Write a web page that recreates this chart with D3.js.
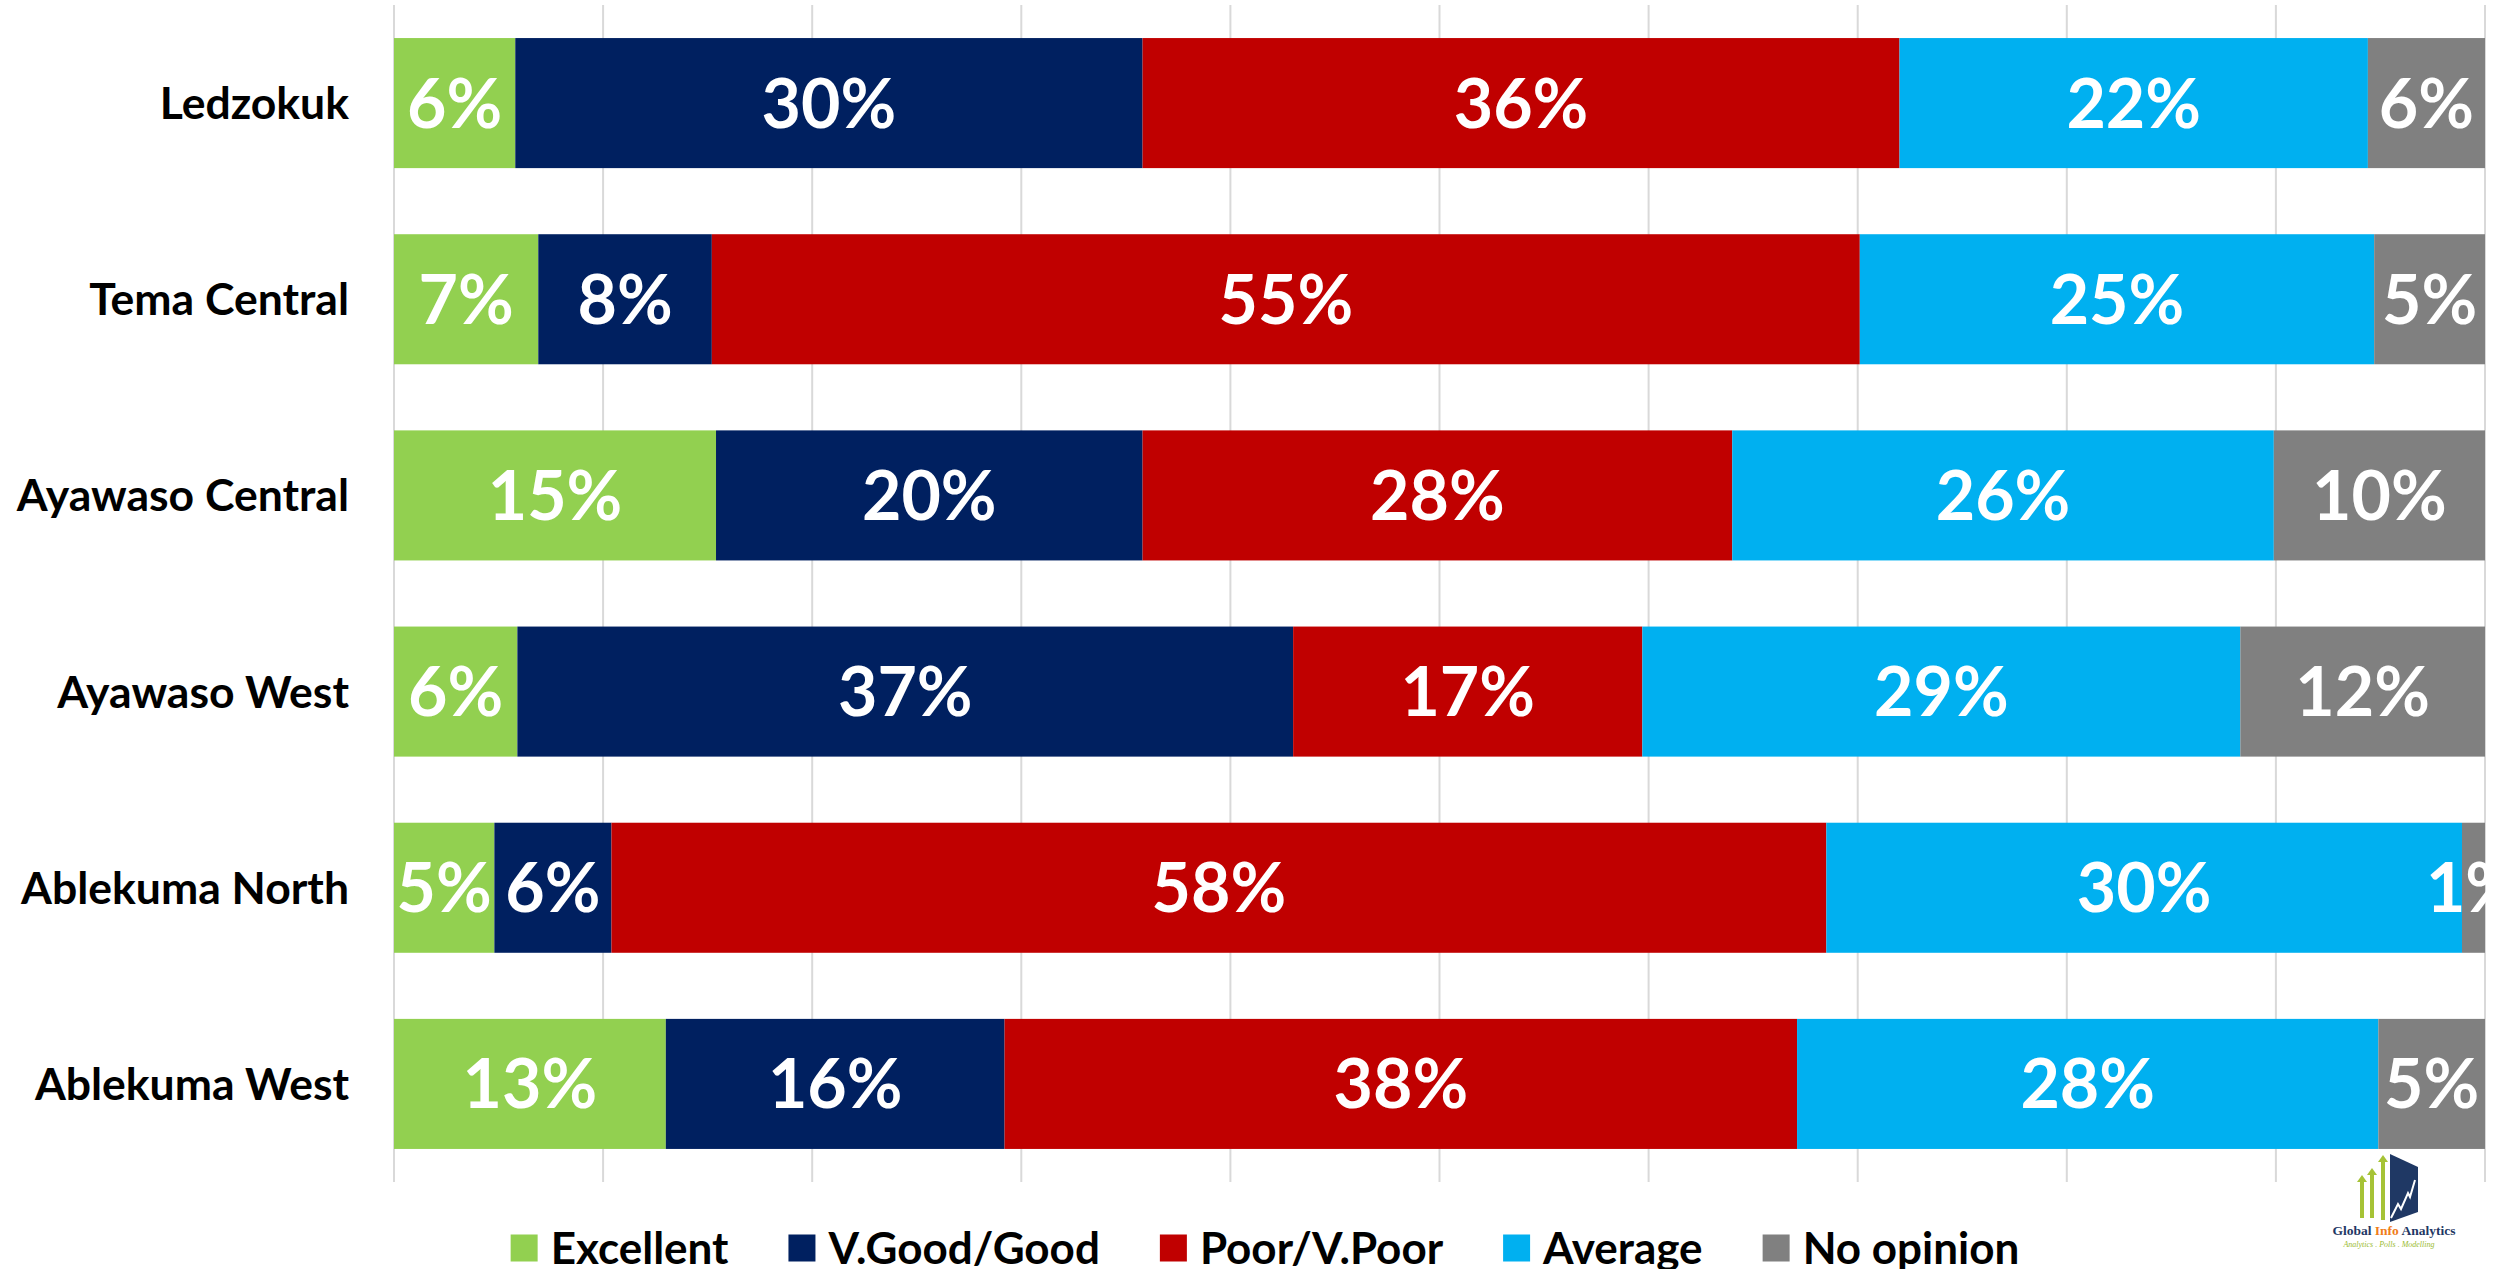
<!DOCTYPE html>
<html>
<head>
<meta charset="utf-8">
<script src="https://cdn.jsdelivr.net/npm/d3@7"></script>
<style>
  html, body { margin: 0; padding: 0; background: #ffffff; }
  svg { display: block; }
</style>
</head>
<body>
<svg id="chart" width="2501" height="1269"></svg>
<script>
// ---- Data ----
const categories = ["Ledzokuk", "Tema Central", "Ayawaso Central", "Ayawaso West", "Ablekuma North", "Ablekuma West"];
const seriesNames = ["Excellent", "V.Good/Good", "Poor/V.Poor", "Average", "No opinion"];
const excellent = [5.8, 6.9, 15.4, 5.9, 4.8, 13.0];
const vgoodGood = [30.0, 8.3, 20.4, 37.1, 5.6, 16.2];
const poorVPoor = [36.2, 54.9, 28.2, 16.7, 58.1, 37.9];
const average   = [22.4, 24.6, 25.9, 28.6, 30.4, 27.8];
const noOpinion = [5.6, 5.3, 10.1, 11.7, 1.1, 5.1];
const xTicks = [0, 10, 20, 30, 40, 50, 60, 70, 80, 90, 100];
const colors = ["#92D050", "#002060", "#C00000", "#00B0F0", "#808080"];

const seriesValues = [excellent, vgoodGood, poorVPoor, average, noOpinion];
const table = categories.map((c, i) => {
  const row = { category: c };
  seriesNames.forEach((s, j) => row[s] = seriesValues[j][i]);
  return row;
});

// ---- Layout ----
const svg = d3.select("#chart");
const FONT = "Lato, 'Open Sans', 'DejaVu Sans', sans-serif";
const plotLeft = 394, plotRight = 2485, plotTop = 5, plotBottom = 1182;

const x = d3.scaleLinear().domain([0, 100]).range([plotLeft, plotRight]);
const y = d3.scaleBand().domain(categories).range([plotTop, plotBottom])
  .paddingInner(0.337).paddingOuter(0.1685);

// gridlines
svg.append("g")
  .selectAll("line")
  .data(xTicks)
  .join("line")
  .attr("x1", d => x(d)).attr("x2", d => x(d))
  .attr("y1", plotTop).attr("y2", plotBottom)
  .attr("stroke", "#D9D9D9").attr("stroke-width", 2);

// clip for the plot area
svg.append("defs").append("clipPath").attr("id", "plotClip")
  .append("rect").attr("x", plotLeft).attr("y", 0)
  .attr("width", plotRight - plotLeft + 1).attr("height", plotBottom);

const stacked = d3.stack().keys(seriesNames)(table);

const layers = svg.append("g").attr("clip-path", "url(#plotClip)")
  .selectAll("g.layer")
  .data(stacked)
  .join("g")
  .attr("class", "layer")
  .attr("fill", (d, i) => colors[i]);

layers.selectAll("rect")
  .data(d => d)
  .join("rect")
  .attr("x", d => x(d[0]))
  .attr("y", d => y(d.data.category))
  .attr("width", d => x(d[1]) - x(d[0]))
  .attr("height", y.bandwidth());

// data labels
const labels = svg.append("g").attr("clip-path", "url(#plotClip)");
stacked.forEach((layer) => {
  labels.selectAll(null)
    .data(layer)
    .join("text")
    .attr("x", d => (x(d[0]) + x(d[1])) / 2)
    .attr("y", d => y(d.data.category) + y.bandwidth() / 2)
    .attr("dy", "0.36em")
    .attr("text-anchor", "middle")
    .attr("font-family", FONT)
    .attr("font-weight", "bold")
    .attr("font-size", 68)
    .attr("fill", "#ffffff")
    .text(d => Math.round(d[1] - d[0]) + "%");
});

// category axis labels
svg.append("g")
  .selectAll("text")
  .data(categories)
  .join("text")
  .attr("x", 349)
  .attr("y", d => y(d) + y.bandwidth() / 2)
  .attr("dy", "0.36em")
  .attr("text-anchor", "end")
  .attr("font-family", FONT)
  .attr("font-weight", "bold")
  .attr("font-size", 44.5)
  .attr("fill", "#000000")
  .text(d => d);

// legend
const legend = svg.append("g");
let cursor = 0;
const legendY = 1248;
seriesNames.forEach((name, i) => {
  const g = legend.append("g").attr("transform", `translate(${cursor},0)`);
  g.append("rect").attr("x", 0).attr("y", legendY - 13.5).attr("width", 27).attr("height", 27)
    .attr("fill", colors[i]);
  const t = g.append("text").attr("x", 40).attr("y", legendY).attr("dy", "0.36em")
    .attr("font-family", FONT).attr("font-weight", "bold").attr("font-size", 44)
    .attr("fill", "#000").text(name);
  const w = t.node().getComputedTextLength();
  cursor += 40 + w + 60;
});
const legendWidth = cursor - 60;
legend.attr("transform", `translate(${1265 - legendWidth / 2},0)`);

// logo (decoration)
const logo = svg.append("g");
const arrowColor = "#A6C336";
[[2362, 1175, 1218], [2372, 1168, 1218], [2383, 1155, 1220]].forEach(([cx, top, bot]) => {
  logo.append("rect").attr("x", cx - 2).attr("y", top + 6).attr("width", 4).attr("height", bot - top - 6).attr("fill", arrowColor);
  logo.append("path").attr("d", `M${cx - 5},${top + 7} L${cx},${top} L${cx + 5},${top + 7} Z`).attr("fill", arrowColor);
});
logo.append("path").attr("d", "M2390,1154 L2418,1167 L2418,1212 L2390,1222 Z").attr("fill", "#1F3864");
logo.append("path").attr("d", "M2391,1218 L2398,1204 L2401,1209 L2408,1193 L2410,1197 L2415,1180")
  .attr("fill", "none").attr("stroke", "#ffffff").attr("stroke-width", 2);
const lt = logo.append("text").attr("x", 2394).attr("y", 1235).attr("text-anchor", "middle")
  .attr("font-family", "'Liberation Serif', 'DejaVu Serif', serif").attr("font-weight", "bold")
  .attr("font-size", 13.5).attr("fill", "#1F3864");
lt.append("tspan").text("Global ");
lt.append("tspan").attr("fill", "#F07D1A").text("Info");
lt.append("tspan").text(" Analytics");
logo.append("text").attr("x", 2389).attr("y", 1247).attr("text-anchor", "middle")
  .attr("font-family", "'Liberation Serif', 'DejaVu Serif', serif").attr("font-style", "italic")
  .attr("font-size", 8).attr("fill", "#9BBB2F").text("Analytics . Polls . Modelling");
</script>
</body>
</html>
